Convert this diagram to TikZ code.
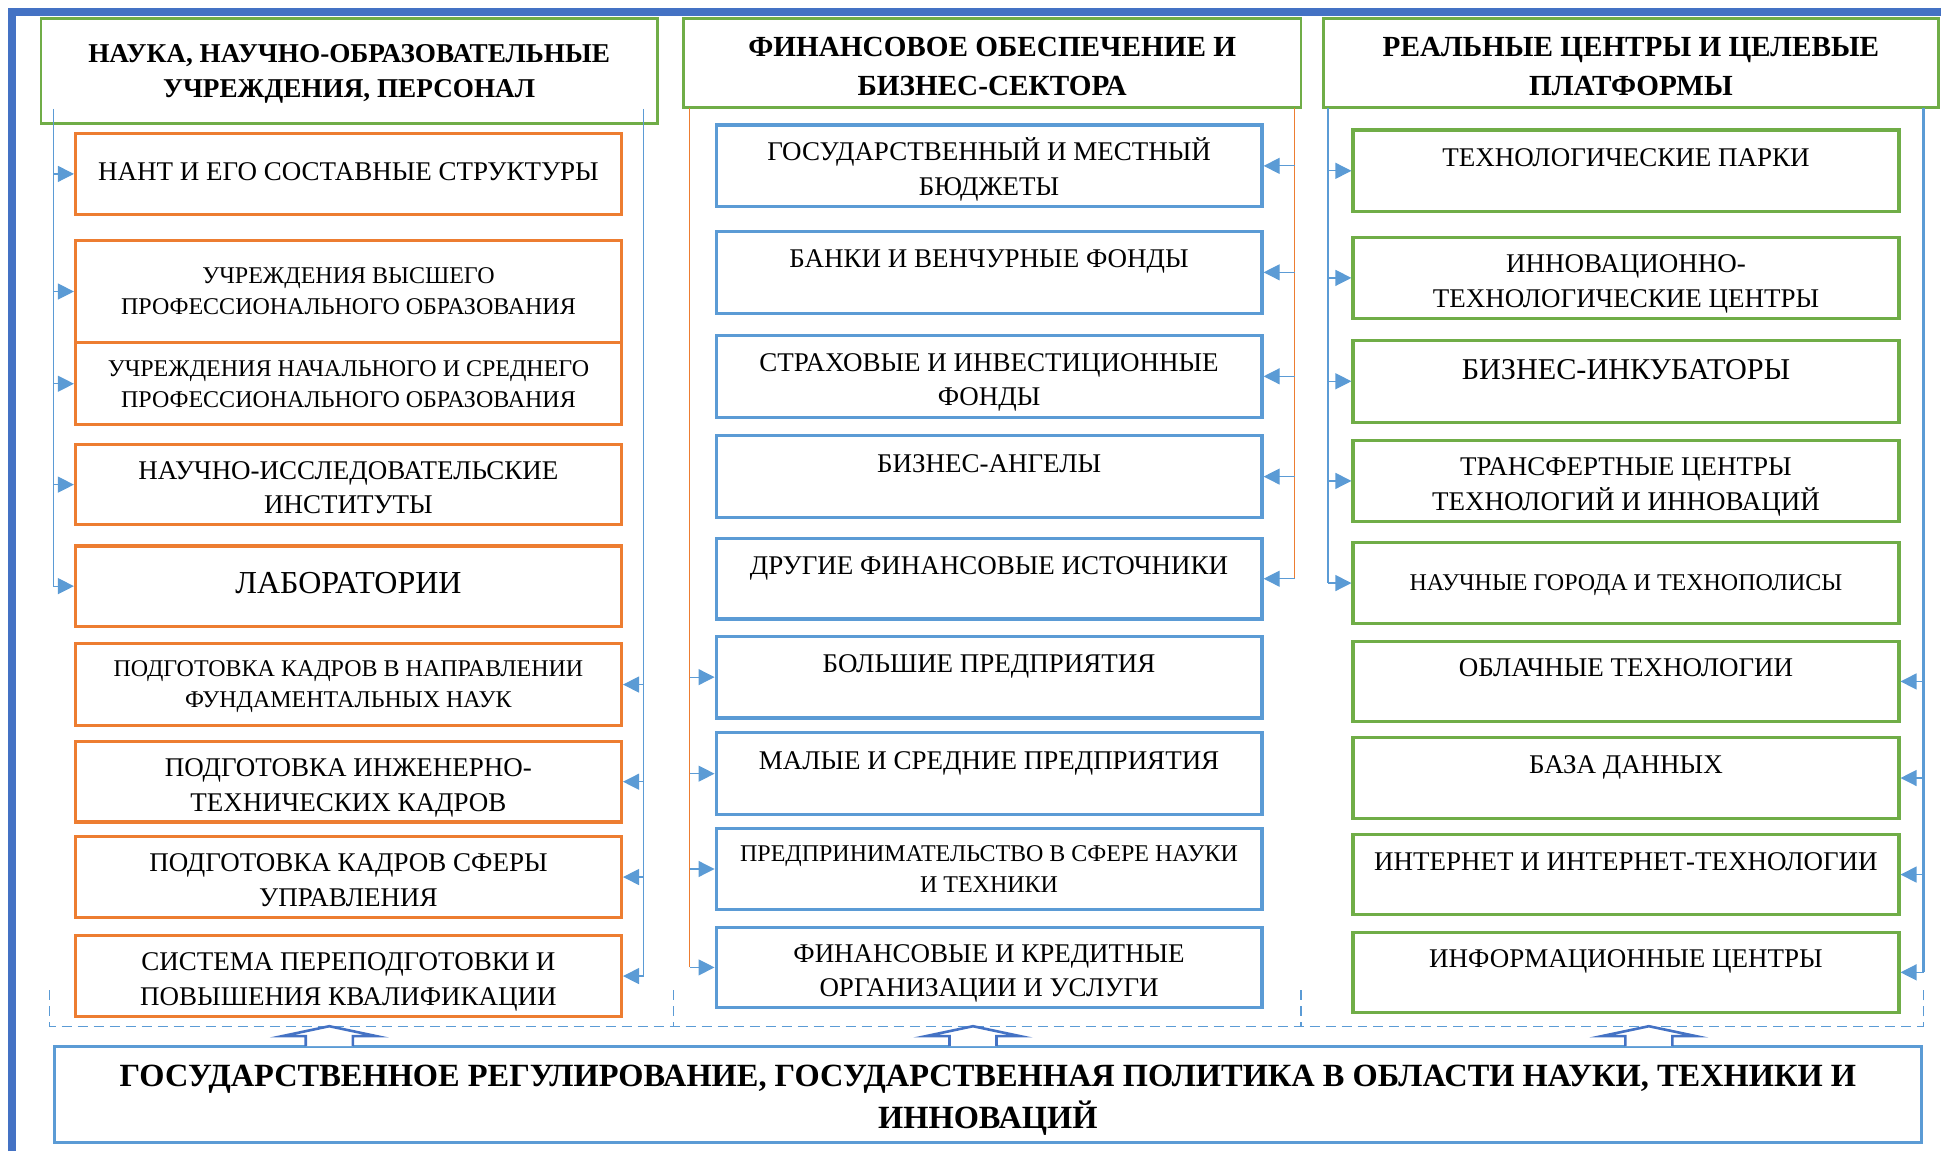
\documentclass[tikz,border=0pt]{standalone}
\usepackage{fontspec}
\setmainfont{Liberation Serif}
\usetikzlibrary{arrows.meta}
\definecolor{orng}{HTML}{ED7D31}
\definecolor{lblue}{HTML}{5B9BD5}
\definecolor{grn}{HTML}{70AD47}
\definecolor{dblue}{HTML}{4472C4}
\def\px{0.619pt}
\tikzset{
  hdr/.style={draw=grn,line width=1.3pt,align=center,inner sep=0pt,text height=32pt,text depth=0pt,font=\bfseries\fontsize{14.6}{19.2}\selectfont},
  cell/.style={line width=1.6pt,align=center,inner sep=0pt,text height=29.3pt,text depth=0pt,minimum width=441*\px,minimum height=65*\px,font=\fontsize{13.5}{17.3}\selectfont},
  obox/.style={cell,draw=orng},
  bbox/.style={cell,draw=lblue},
  gbox/.style={cell,draw=grn},
  small/.style={font=\fontsize{12}{15.5}\selectfont,text height=23.4pt},
  big/.style={font=\fontsize{16}{19}\selectfont},
  one/.style={text height=9pt,text depth=2pt},
  toptxt/.style={text height=9pt,text depth=13.5pt},
  rail/.style={lblue,line width=0.6pt},
  arr/.style={rail,-{Triangle[length=8pt,width=8pt]}},
}
\begin{document}
\begin{tikzpicture}[x=\px,y=-\px]
  \useasboundingbox (0,0) rectangle (1568,930);
  %% frame
  \draw[dblue,line width=4pt] (10,930) -- (10,10) -- (1568,10);
  %% headers
  \node[hdr,minimum width=498*\px,minimum height=85*\px,text height=26.3pt,font=\bfseries\fontsize{13.6}{17.3}\selectfont] (h1) at (282,57.5) {НАУКА, НАУЧНО-ОБРАЗОВАТЕЛЬНЫЕ\\УЧРЕЖДЕНИЯ, ПЕРСОНАЛ};
  \node[hdr,minimum width=499*\px,minimum height=72*\px] (h2) at (801.5,51) {ФИНАНСОВОЕ ОБЕСПЕЧЕНИЕ И\\БИЗНЕС-СЕКТОРА};
  \node[hdr,minimum width=497*\px,minimum height=72*\px] (h3) at (1317.5,51) {РЕАЛЬНЫЕ ЦЕНТРЫ И ЦЕЛЕВЫЕ\\ПЛАТФОРМЫ};
  %% left column
  \node[obox,one] (l1) at (281.5,140.5) {НАНТ И ЕГО СОСТАВНЫЕ СТРУКТУРЫ};
  \node[obox,small,minimum height=83*\px] (l2) at (281.5,235.5) {УЧРЕЖДЕНИЯ ВЫСШЕГО\\ПРОФЕССИОНАЛЬНОГО ОБРАЗОВАНИЯ};
  \node[obox,small,minimum height=66*\px] (l3) at (281.5,310) {УЧРЕЖДЕНИЯ НАЧАЛЬНОГО И СРЕДНЕГО\\ПРОФЕССИОНАЛЬНОГО ОБРАЗОВАНИЯ};
  \node[obox] (l4) at (281.5,391.5) {НАУЧНО-ИССЛЕДОВАТЕЛЬСКИЕ\\ИНСТИТУТЫ};
  \node[obox,big,one] (l5) at (281.5,473.5) {ЛАБОРАТОРИИ};
  \node[obox,small,minimum height=66*\px] (l6) at (281.5,553) {ПОДГОТОВКА КАДРОВ В НАПРАВЛЕНИИ\\ФУНДАМЕНТАЛЬНЫХ НАУК};
  \node[obox] (l7) at (281.5,631.5) {ПОДГОТОВКА ИНЖЕНЕРНО-\\ТЕХНИЧЕСКИХ КАДРОВ};
  \node[obox] (l8) at (281.5,708.5) {ПОДГОТОВКА КАДРОВ СФЕРЫ\\УПРАВЛЕНИЯ};
  \node[obox] (l9) at (281.5,788.5) {СИСТЕМА ПЕРЕПОДГОТОВКИ И\\ПОВЫШЕНИЯ КВАЛИФИКАЦИИ};
  %% middle column
  \node[bbox,minimum height=66*\px] (m1) at (799,134) {ГОСУДАРСТВЕННЫЙ И МЕСТНЫЙ\\БЮДЖЕТЫ};
  \node[bbox,toptxt,minimum height=66*\px] (m2) at (799,220) {БАНКИ И ВЕНЧУРНЫЕ ФОНДЫ};
  \node[bbox,minimum height=66*\px] (m3) at (799,304) {СТРАХОВЫЕ И ИНВЕСТИЦИОННЫЕ\\ФОНДЫ};
  \node[bbox,toptxt,minimum height=66*\px] (m4) at (799,385) {БИЗНЕС-АНГЕЛЫ};
  \node[bbox,toptxt] (m5) at (799,467.5) {ДРУГИЕ ФИНАНСОВЫЕ ИСТОЧНИКИ};
  \node[bbox,toptxt,minimum height=66*\px] (m6) at (799,547) {БОЛЬШИЕ ПРЕДПРИЯТИЯ};
  \node[bbox,toptxt,minimum height=66*\px] (m7) at (799,625) {МАЛЫЕ И СРЕДНИЕ ПРЕДПРИЯТИЯ};
  \node[bbox,small,minimum height=66*\px] (m8) at (799,702) {ПРЕДПРИНИМАТЕЛЬСТВО В СФЕРЕ НАУКИ\\И ТЕХНИКИ};
  \node[bbox] (m9) at (799,781.5) {ФИНАНСОВЫЕ И КРЕДИТНЫЕ\\ОРГАНИЗАЦИИ И УСЛУГИ};
  %% right column
  \node[gbox,toptxt,minimum height=66*\px] (r1) at (1313.5,138) {ТЕХНОЛОГИЧЕСКИЕ ПАРКИ};
  \node[gbox] (r2) at (1313.5,224.5) {ИННОВАЦИОННО-\\ТЕХНОЛОГИЧЕСКИЕ ЦЕНТРЫ};
  \node[gbox,font=\fontsize{15.1}{19}\selectfont,text height=11pt,text depth=13pt,minimum height=66*\px] (r3) at (1313.5,308) {БИЗНЕС-ИНКУБАТОРЫ};
  \node[gbox] (r4) at (1313.5,388.5) {ТРАНСФЕРТНЫЕ ЦЕНТРЫ\\ТЕХНОЛОГИЙ И ИННОВАЦИЙ};
  \node[gbox,small,one,minimum height=66*\px] (r5) at (1313.5,471) {НАУЧНЫЕ ГОРОДА И ТЕХНОПОЛИСЫ};
  \node[gbox,toptxt] (r6) at (1313.5,550.5) {ОБЛАЧНЫЕ ТЕХНОЛОГИИ};
  \node[gbox,toptxt] (r7) at (1313.5,628.5) {БАЗА ДАННЫХ};
  \node[gbox,toptxt] (r8) at (1313.5,706.5) {ИНТЕРНЕТ И ИНТЕРНЕТ-ТЕХНОЛОГИИ};
  \node[gbox,toptxt] (r9) at (1313.5,785.5) {ИНФОРМАЦИОННЫЕ ЦЕНТРЫ};
  %% bottom
  \node[draw=lblue,line width=1.5pt,align=center,inner sep=0pt,text height=34.2pt,text depth=0pt,minimum width=1508*\px,minimum height=78*\px,font=\bfseries\fontsize{16.2}{21}\selectfont] (gov) at (798,884) {ГОСУДАРСТВЕННОЕ РЕГУЛИРОВАНИЕ, ГОСУДАРСТВЕННАЯ ПОЛИТИКА В ОБЛАСТИ НАУКИ, ТЕХНИКИ И\\ИННОВАЦИЙ};
  %% rails
  \coordinate (la) at (43,88);
  \coordinate (lb) at (520,88);
  \coordinate (ma) at (557,87);
  \coordinate (mb) at (1046,87);
  \coordinate (ra) at (1073,87);
  \coordinate (rb) at (1554,87);
  \draw[rail] (la) -- (la |- l5.west);
  \foreach \n in {l1,l2,l3,l4,l5} \draw[arr] (la |- \n.west) -- (\n.west);
  \draw[rail] (lb) -- (lb |- l9.east);
  \foreach \n in {l6,l7,l8,l9} \draw[arr] (lb |- \n.east) -- (\n.east);
  \draw[rail,orng] (ma) -- (ma |- m9.west);
  \foreach \n in {m6,m7,m8,m9} \draw[arr] (ma |- \n.west) -- (\n.west);
  \draw[rail,orng] (mb) -- (mb |- m5.east);
  \foreach \n in {m1,m2,m3,m4,m5} \draw[arr] (mb |- \n.east) -- (\n.east);
  \draw[rail,line width=1.2pt] (ra) -- (ra |- r5.west);
  \foreach \n in {r1,r2,r3,r4,r5} \draw[arr] (ra |- \n.west) -- (\n.west);
  \draw[rail,line width=1.2pt] (rb) -- (rb |- r9.east);
  \foreach \n in {r6,r7,r8,r9} \draw[arr] (rb |- \n.east) -- (\n.east);
  %% dashed frame
  \draw[rail,dash pattern=on 5pt off 3pt] (40,800) -- (40,829) -- (1554,829) -- (1554,800);
  \foreach \x in {544,1051} \draw[rail,dash pattern=on 5pt off 3pt] (\x,800) -- (\x,829);
  %% block arrows
  \foreach \x in {266,786,1332}
    \draw[dblue,line width=1.3pt,fill=white] (\x-19,845) -- (\x-19,837) -- (\x-38,837) -- (\x,829) -- (\x+38,837) -- (\x+19,837) -- (\x+19,845);
\end{tikzpicture}
\end{document}
